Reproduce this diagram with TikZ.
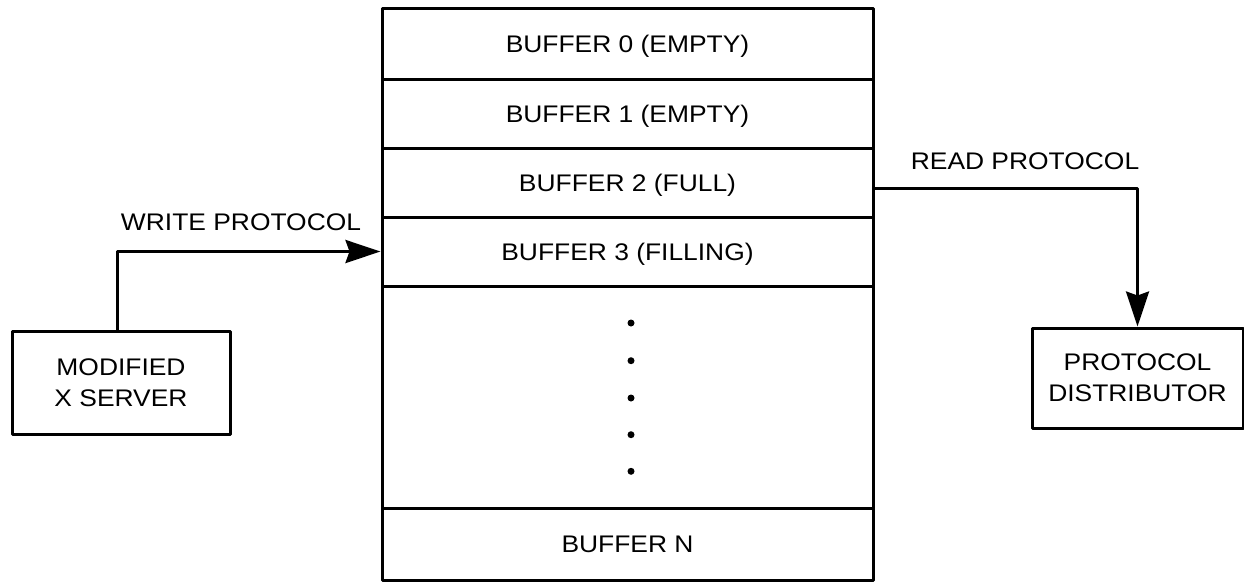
\documentclass[tikz,border=0pt]{standalone}
\usepackage{fontspec}
\setmainfont{Liberation Sans}[FakeStretch=1.1]
\usetikzlibrary{arrows.meta}
\begin{document}
\begin{tikzpicture}[x=1pt,y=-1pt,>={Stealth[length=35pt,width=23pt,inset=4pt]}, line width=3pt, line join=round,
		font=\fontsize{24}{31}\selectfont,
		buf/.style={draw,minimum width=491pt,text height=17pt,text depth=0pt,inner sep=0pt},
		box/.style={draw,align=center,inner sep=0pt}]
		\useasboundingbox (0,0) rectangle (1244,582);
		\def\xm{627.5}
		%\draw[color=gray!50,dashed] (0,0) grid[step=50] (1244,582);
		\node[buf,minimum height=71pt] (b0) at (\xm,43.5) {BUFFER 0 (EMPTY)};
		\node[buf,minimum height=69pt] (b1) at (\xm,113.5) {BUFFER 1 (EMPTY)};
		\node[buf,minimum height=69pt] (b2) at (\xm,182.5) {BUFFER 2 (FULL)};
		\node[buf,minimum height=69pt] (b3) at (\xm,251.5) {BUFFER 3 (FILLING)};
		\node[buf,minimum height=222pt] (bd) at (\xm,397) {};
		\node[buf,minimum height=72pt] (bn) at (\xm,544) {BUFFER N};
		\foreach \y in {323,360.7,398,434.7,471.3} \fill (631,\y) circle (3.5pt);
		\node[box,minimum width=218pt,minimum height=103pt] (srv) at (121,382.5) {MODIFIED\\X SERVER};
		\node[box,minimum width=211pt,minimum height=100pt] (dist) at (1137.5,378) {PROTOCOL\\DISTRIBUTOR};
		\node[anchor=base] (wr) at (241,230) {WRITE PROTOCOL};
		\node[anchor=base] (rd) at (1025,169) {READ PROTOCOL};
		\draw[->] ([xshift=-4pt]srv.north) |- (b3.west);
		\draw[->] ([yshift=-5.5pt]b2.east) -| (dist.north);
\end{tikzpicture}
\end{document}
